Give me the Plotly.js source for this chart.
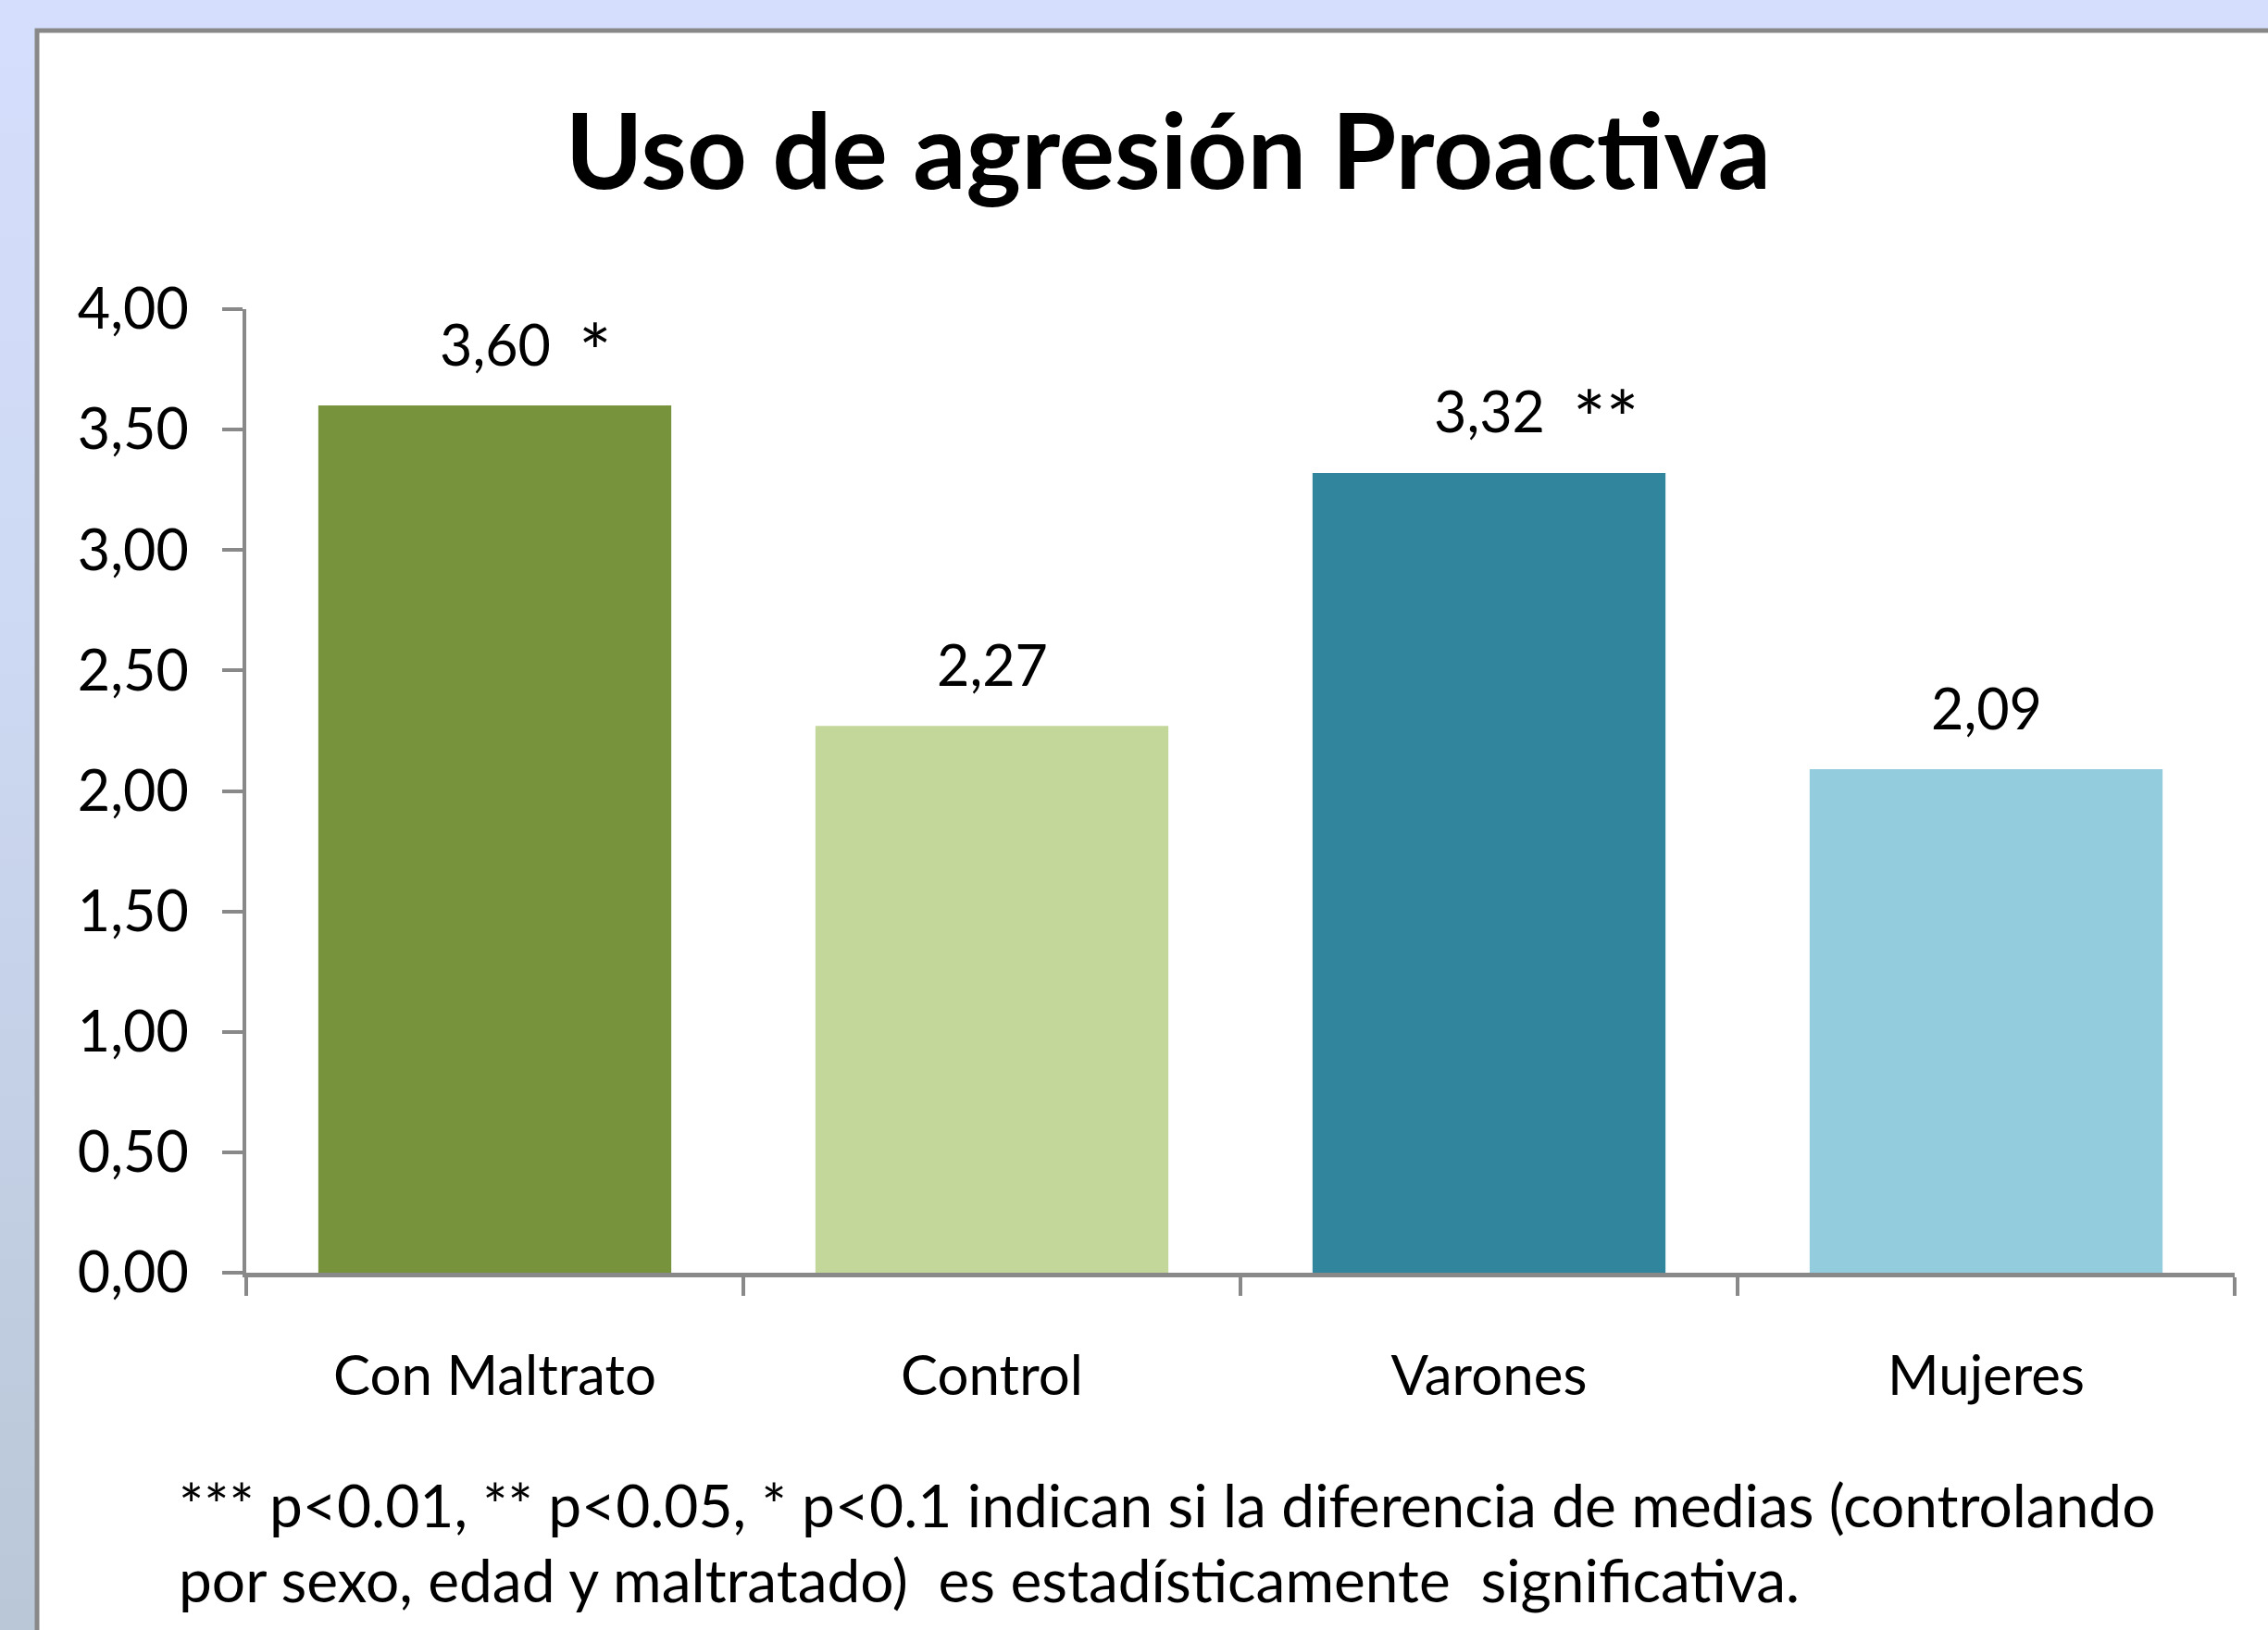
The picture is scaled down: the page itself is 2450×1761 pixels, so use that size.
<!DOCTYPE html>
<html>
<head>
<meta charset="utf-8">
<script src="https://cdn.plot.ly/plotly-3.0.1.min.js"></script>
<style>
  html, body { margin: 0; padding: 0; }
  #chart { width: 2450px; height: 1761px; background: linear-gradient(to bottom, #D5DFFD 0%, #CDD8F2 40%, #B9C7D7 100%); }
</style>
</head>
<body>
<div id="chart"></div>
<script>
// ---- data ----
const categories = ["Con Maltrato", "Control", "Varones", "Mujeres"];
const values = [3.60, 2.27, 3.32, 2.09];
const significance = ["*", "", "**", ""];
const barColors = ["#77933C", "#C4D79B", "#31859C", "#93CDDD"];
const yTicks = [0, 0.5, 1, 1.5, 2, 2.5, 3, 3.5, 4];
const titleText = "Uso de agresión Proactiva";
const noteLines = [
  "*** p<0.01, ** p<0.05, * p<0.1 indican si la diferencia de medias (controlando",
  "por sexo, edad y maltratado)  es estadísticamente  significativa."
];

const FONT = "Lato, 'Open Sans', sans-serif";
const W = 2450, H = 1761;
const mL = 266, mR = 36, mT = 334, mB = 386;
const pw = W - mL - mR, ph = H - mT - mB;
const px2x = p => (p - mL) / pw;
const py2y = p => (H - mB - p) / ph;

const fmt = v => v.toFixed(2).replace('.', ',');

const trace = {
  type: 'bar',
  x: categories,
  y: values,
  marker: { color: barColors, line: { width: 0 } },
  width: 0.71,
  hoverinfo: 'skip'
};

const annotations = [];
categories.forEach((c, i) => {
  annotations.push({
    x: c, y: values[i], xref: 'x', yref: 'y',
    text: fmt(values[i]), showarrow: false,
    xanchor: 'center', yanchor: 'middle', yshift: 67,
    font: { family: FONT, size: 61, color: '#000' }
  });
  if (significance[i]) {
    annotations.push({
      x: c, y: values[i], xref: 'x', yref: 'y',
      text: significance[i], showarrow: false,
      xanchor: 'left', yanchor: 'middle', yshift: 60, xshift: 88,
      font: { family: FONT, size: 84, color: '#000' }
    });
  }
});
noteLines.forEach((t, i) => {
  annotations.push({
    xref: 'paper', yref: 'paper',
    x: px2x(191), y: py2y(1625 + i * 81),
    xanchor: 'left', yanchor: 'middle',
    text: t, showarrow: false,
    font: { family: FONT, size: 64, color: '#000' }
  });
});

const layout = {
  width: W, height: H,
  margin: { l: mL, r: mR, t: mT, b: mB, pad: 0 },
  paper_bgcolor: 'rgba(0,0,0,0)',
  plot_bgcolor: 'rgba(0,0,0,0)',
  separators: ',.',
  showlegend: false,
  title: {
    text: '<b>' + titleText + '</b>',
    xref: 'container', yref: 'container',
    x: 1262 / W, y: 1 - 164 / H, xanchor: 'center', yanchor: 'middle',
    font: { family: FONT, size: 113, color: '#000' }
  },
  xaxis: {
    type: 'category',
    range: [-0.5, 3.5],
    showgrid: false, zeroline: false,
    showline: true, linecolor: '#898989', linewidth: 5,
    ticks: 'outside', tickson: 'boundaries', ticklen: 20, tickwidth: 4, tickcolor: '#898989',
    ticklabelstandoff: 55,
    tickfont: { family: FONT, size: 60, color: '#000' },
    fixedrange: true
  },
  yaxis: {
    range: [0, 4],
    tickvals: yTicks,
    tickformat: '.2f',
    showgrid: false, zeroline: false,
    showline: true, linecolor: '#898989', linewidth: 4,
    ticks: 'outside', ticklen: 22, tickwidth: 4, tickcolor: '#898989',
    ticklabelstandoff: 24,
    tickfont: { family: FONT, size: 61, color: '#000' },
    fixedrange: true
  },
  shapes: [{
    type: 'rect', xref: 'paper', yref: 'paper', layer: 'below',
    x0: px2x(40), x1: px2x(W + 20), y0: py2y(H + 20), y1: py2y(33),
    fillcolor: '#FFFFFF', line: { color: '#888888', width: 5 }
  }],
  annotations: annotations
};

Plotly.newPlot('chart', [trace], layout, { displayModeBar: false, staticPlot: true });
</script>
</body>
</html>
